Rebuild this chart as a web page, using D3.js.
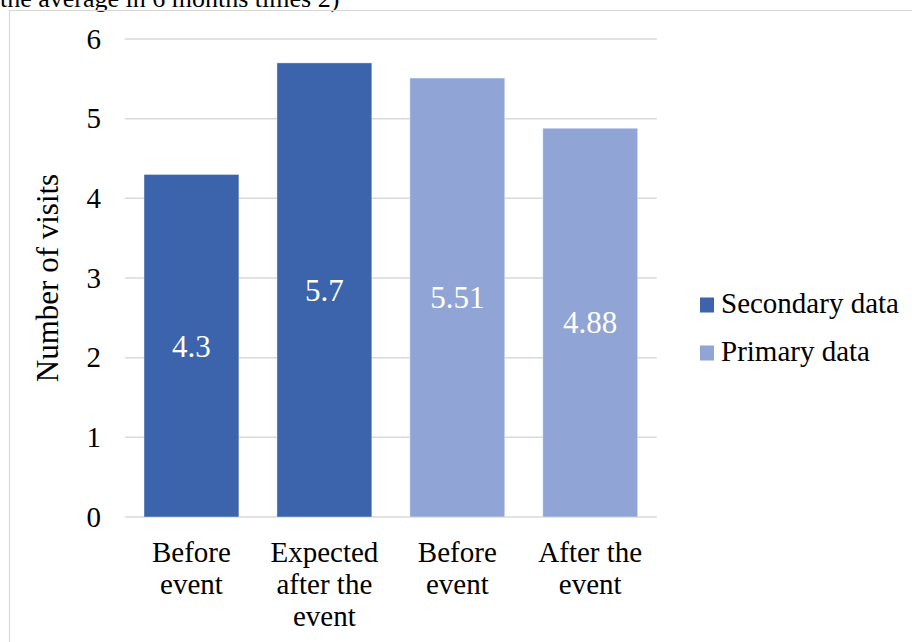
<!DOCTYPE html>
<html>
<head>
<meta charset="utf-8">
<script src="https://cdn.jsdelivr.net/npm/d3@7"></script>
<style>
  html, body { margin: 0; padding: 0; background: #fff; }
  svg { display: block; font-family: "Liberation Serif", "Times New Roman", serif; }
</style>
</head>
<body>
<div class="svg-container"></div>
<script>
const categories = ["Before event", "Expected after the event", "Before event", "After the event"];
const values = [4.3, 5.7, 5.51, 4.88];
const series = ["Secondary data", "Secondary data", "Primary data", "Primary data"];
const seriesNames = ["Secondary data", "Primary data"];
const yTicks = [0, 1, 2, 3, 4, 5, 6];
const caption = "the average in 6 months times 2)";

const width = 912, height = 642;
const margin = { top: 39, left: 125, right: 255.3, bottom: 125 };
const fontSize = 29;

const color = d3.scaleOrdinal(seriesNames, ["#3C64AC", "#90A5D5"]);

const svg = d3.select("div.svg-container")
  .append("svg")
  .attr("width", width)
  .attr("height", height);

// cut-off caption above the chart frame
svg.append("text")
  .attr("x", 0)
  .attr("y", 7)
  .attr("font-size", 26)
  .attr("fill", "#000")
  .text(caption);

// chart frame
svg.append("rect")
  .attr("x", 9.5)
  .attr("y", 10.5)
  .attr("width", 960)
  .attr("height", 800)
  .attr("fill", "none")
  .attr("stroke", "#D9D9D9")
  .attr("stroke-width", 1.2);

const x = d3.scaleBand()
  .domain(d3.range(categories.length))
  .range([margin.left, width - margin.right])
  .paddingInner(0.286)
  .paddingOuter(0.143);

const y = d3.scaleLinear()
  .domain([0, 6])
  .range([height - margin.bottom, margin.top]);

// gridlines
svg.append("g")
  .selectAll("line")
  .data(yTicks)
  .join("line")
  .attr("x1", margin.left)
  .attr("x2", width - margin.right)
  .attr("y1", (d) => y(d))
  .attr("y2", (d) => y(d))
  .attr("stroke", "#D9D9D9")
  .attr("stroke-width", 1.5);

// y axis labels
const yAxis = svg.append("g")
  .attr("transform", `translate(${margin.left - 24},0)`)
  .call(d3.axisLeft(y).tickValues(yTicks).tickSize(0).tickPadding(0).tickFormat(d3.format("d")));
yAxis.select(".domain").remove();
yAxis.selectAll("text")
  .attr("font-family", "Liberation Serif, Times New Roman, serif")
  .attr("font-size", fontSize)
  .attr("fill", "#000");

// y axis title
svg.append("text")
  .attr("transform", `translate(47,${(y(0) + y(6)) / 2}) rotate(-90)`)
  .attr("text-anchor", "middle")
  .attr("dy", "0.35em")
  .attr("font-size", 31)
  .attr("fill", "#000")
  .text("Number of visits");

// bars
svg.append("g")
  .selectAll("rect")
  .data(values)
  .join("rect")
  .attr("x", (d, i) => x(i))
  .attr("y", (d) => y(d))
  .attr("width", x.bandwidth())
  .attr("height", (d) => y(0) - y(d))
  .attr("fill", (d, i) => color(series[i]))
  .attr("stroke", "#ffffff")
  .attr("stroke-opacity", 0.5)
  .attr("stroke-width", 0.8);

// data labels
svg.append("g")
  .selectAll("text")
  .data(values)
  .join("text")
  .attr("x", (d, i) => x(i) + x.bandwidth() / 2)
  .attr("y", (d) => (y(d) + y(0)) / 2)
  .attr("dy", "0.35em")
  .attr("text-anchor", "middle")
  .attr("font-size", 31)
  .attr("fill", "#fff")
  .text((d) => d);

// x category labels, wrapped to the band
function wrapWords(label, maxWidth, measure) {
  const words = label.split(" ");
  const lines = [];
  let line = words[0];
  for (let k = 1; k < words.length; k++) {
    const test = line + " " + words[k];
    if (measure(test) > maxWidth) {
      lines.push(line);
      line = words[k];
    } else {
      line = test;
    }
  }
  lines.push(line);
  return lines;
}

const probe = svg.append("text").attr("font-size", fontSize).attr("visibility", "hidden");
const measure = (s) => probe.text(s).node().getComputedTextLength();

const xLabels = svg.append("g")
  .selectAll("text")
  .data(categories)
  .join("text")
  .attr("x", (d, i) => x(i) + x.bandwidth() / 2)
  .attr("y", 562)
  .attr("text-anchor", "middle")
  .attr("font-size", fontSize)
  .attr("fill", "#000");

xLabels.each(function (d, i) {
  const lines = wrapWords(d, 125, measure);
  d3.select(this)
    .selectAll("tspan")
    .data(lines)
    .join("tspan")
    .attr("x", x(i) + x.bandwidth() / 2)
    .attr("dy", (l, j) => (j === 0 ? 0 : 32))
    .text((l) => l);
});
probe.remove();

// legend
const legend = svg.append("g")
  .selectAll("g")
  .data(seriesNames)
  .join("g")
  .attr("transform", (d, i) => `translate(700,${305 + i * 48})`);

legend.append("rect")
  .attr("x", 0)
  .attr("y", -7.5)
  .attr("width", 14)
  .attr("height", 15)
  .attr("fill", (d) => color(d));

legend.append("text")
  .attr("x", 21)
  .attr("y", 8)
  .attr("font-size", fontSize)
  .attr("fill", "#000")
  .text((d) => d);
</script>
</body>
</html>
